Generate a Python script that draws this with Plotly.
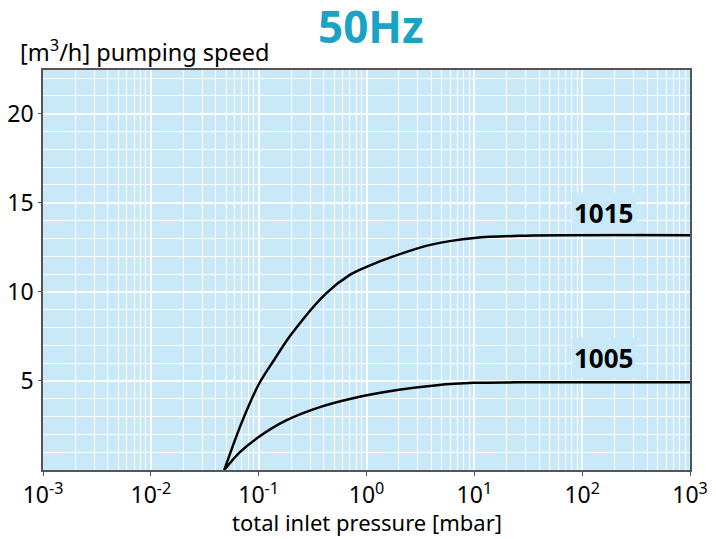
import math
import plotly.graph_objects as go

# Data
p_1015 = [0.048, 0.07, 0.1, 0.14, 0.2, 0.42, 0.7, 1.0, 2.0, 4.0, 10, 30, 1000]
s_1015 = [0.0, 2.7, 4.8, 6.2, 7.6, 9.9, 10.95, 11.4, 12.1, 12.65, 13.02, 13.15, 13.18]

p_1005 = [0.048, 0.067, 0.1, 0.18, 0.375, 0.75, 2.0, 4.5, 10, 25, 1000]
s_1005 = [0.0, 1.0, 1.85, 2.78, 3.54, 4.03, 4.5, 4.76, 4.89, 4.92, 4.92]

label_names = ["1015", "1005"]
label_x = [160, 160]
label_y = [14.41, 6.26]

x_tickvals = [1e-3, 1e-2, 1e-1, 1e0, 1e1, 1e2, 1e3]
x_ticktext = ["10<sup>-3</sup>", "10<sup>-2</sup>", "10<sup>-1</sup>", "10<sup>0</sup>",
              "10<sup>1</sup>", "10<sup>2</sup>", "10<sup>3</sup>"]
y_tickvals = [5, 10, 15, 20]

FONT = "Noto Sans"
BG = "#c9e9f9"

fig = go.Figure()
for xs, ys in [(p_1015, s_1015), (p_1005, s_1005)]:
    fig.add_trace(go.Scatter(x=xs, y=ys, mode="lines",
                             line=dict(color="black", width=2.5, shape="spline", smoothing=1.0),
                             showlegend=False, hoverinfo="skip"))

for name, lx, ly in zip(label_names, label_x, label_y):
    fig.add_annotation(x=math.log10(lx), y=ly, xref="x", yref="y", text="<b>%s</b>" % name,
                       showarrow=False, font=dict(family=FONT, size=26, color="black"),
                       bgcolor=BG, borderpad=2, xanchor="center", yanchor="middle")

fig.add_annotation(x=0.507, y=1.111, xref="paper", yref="paper", text="<b>50Hz</b>",
                   showarrow=False, font=dict(family=FONT, size=44, color="#1ba3c6"),
                   xanchor="center", yanchor="middle")
fig.add_annotation(x=-0.038, y=1.048, xref="paper", yref="paper",
                   text="[m<sup>3</sup>/h] pumping speed",
                   showarrow=False, font=dict(family=FONT, size=23.5, color="black"),
                   xanchor="left", yanchor="middle")
fig.add_annotation(x=0.5, y=-0.13, xref="paper", yref="paper",
                   text="total inlet pressure [mbar]",
                   showarrow=False, font=dict(family=FONT, size=22, color="black"),
                   xanchor="center", yanchor="middle")

# page body has an 8px default margin, so the figure is sized/offset to compensate
fig.update_layout(
    width=708, height=531,
    margin=dict(l=34.5, r=26, t=62, b=69.3),
    paper_bgcolor="white", plot_bgcolor=BG,
    font=dict(family=FONT, color="black"),
)
fig.update_xaxes(type="log", range=[-3, 3], tickvals=x_tickvals, ticktext=x_ticktext,
                 tickfont=dict(size=23), ticks="outside", ticklen=4, tickcolor="#555",
                 showgrid=True, gridcolor="white", gridwidth=1.5,
                 minor=dict(showgrid=True, gridcolor="white", gridwidth=1, ticks="",
                            dtick="D1"),
                 showline=True, linecolor="#555", linewidth=1.5, mirror=True,
                 zeroline=False, automargin=False)
fig.update_yaxes(range=[0, 22.45], tickvals=y_tickvals, tickfont=dict(size=23),
                 ticks="outside", ticklen=3, tickcolor="#555",
                 showgrid=True, gridcolor="white", gridwidth=1.5,
                 minor=dict(showgrid=True, gridcolor="white", gridwidth=1, dtick=1, ticks=""),
                 showline=True, linecolor="#555", linewidth=1.5, mirror=True,
                 zeroline=False, automargin=False)

fig.write_html("out.html")
